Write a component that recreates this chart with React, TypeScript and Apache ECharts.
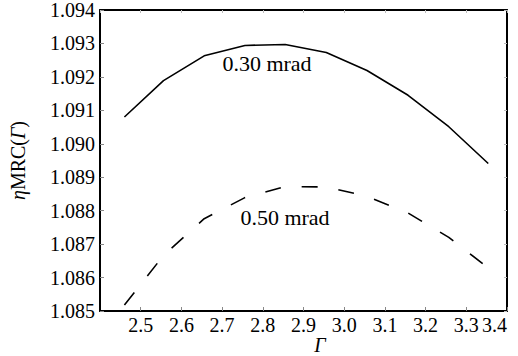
import React, { useEffect, useRef } from "react";
import * as echarts from "echarts";

const gammaSolid = [2.46, 2.556, 2.656, 2.756, 2.855, 2.956, 3.056, 3.157, 3.257, 3.354];
const eta030 = [1.0908, 1.09189, 1.09263, 1.09294, 1.09297, 1.09273, 1.09219, 1.09145, 1.09051, 1.08941];
const gammaDashed = [2.46, 2.556, 2.656, 2.756, 2.855, 2.956, 3.056, 3.157, 3.257, 3.354];
const eta050 = [1.08518, 1.08666, 1.08776, 1.08839, 1.08872, 1.08871, 1.08843, 1.08793, 1.0872, 1.08629];
const seriesLabels = ["0.30 mrad", "0.50 mrad"];
const xTicks = { min: 2.4, max: 3.4, interval: 0.1 };
const yTicks = { min: 1.085, max: 1.094, interval: 0.001 };

const FONT = "'Liberation Serif', serif";

export default function App() {
  const ref = useRef<HTMLDivElement>(null);
  useEffect(() => {
    if (!ref.current) return;
    document.body.style.margin = "0";
    const chart = echarts.init(ref.current, undefined, { renderer: "svg" });
    const axisLine = { show: true, lineStyle: { color: "#000", width: 2 } };
    chart.setOption({
      animation: false,
      backgroundColor: "#fff",
      grid: { left: 98, top: 7, right: 11, bottom: 45, containLabel: false },
      xAxis: [
        {
          type: "value",
          min: xTicks.min,
          max: xTicks.max,
          interval: xTicks.interval,
          axisLine,
          axisTick: { inside: true, length: 4, lineStyle: { color: "#888" } },
          splitLine: { show: false },
          axisLabel: {
            showMinLabel: false,
            alignMaxLabel: "right",
            margin: 4,
            color: "#000",
            fontFamily: FONT,
            fontSize: 20,
            formatter: (v: number) => v.toFixed(1),
          },
        },
        {
          type: "value",
          position: "top",
          min: xTicks.min,
          max: xTicks.max,
          interval: xTicks.interval,
          axisLine,
          axisTick: { inside: true, length: 3, lineStyle: { color: "#bbb" } },
          axisLabel: { show: false },
          splitLine: { show: false },
        },
      ],
      yAxis: [
        {
          type: "value",
          min: yTicks.min,
          max: yTicks.max,
          interval: yTicks.interval,
          axisLine,
          axisTick: { inside: true, length: 4, lineStyle: { color: "#888" } },
          splitLine: { show: false },
          name: "{i|η}MRC({i|Γ})",
          nameLocation: "middle",
          nameRotate: 90,
          nameGap: 72,
          nameTextStyle: {
            fontFamily: FONT,
            fontSize: 20,
            color: "#000",
            rich: { i: { fontStyle: "italic", fontFamily: FONT, fontSize: 20, color: "#000" } },
          },
          axisLabel: {
            margin: 5,
            color: "#000",
            fontFamily: FONT,
            fontSize: 20,
            formatter: (v: number) => v.toFixed(3),
          },
        },
        {
          type: "value",
          position: "right",
          min: yTicks.min,
          max: yTicks.max,
          interval: yTicks.interval,
          axisLine,
          axisTick: { inside: true, length: 3, lineStyle: { color: "#bbb" } },
          axisLabel: { show: false },
          splitLine: { show: false },
        },
      ],
      graphic: [
        {
          type: "text",
          x: 320,
          y: 345,
          style: {
            text: "Γ",
            fontFamily: FONT,
            fontStyle: "italic",
            fontSize: 20,
            fill: "#000",
            align: "center",
            verticalAlign: "middle",
          },
        },
        {
          type: "text",
          x: 267,
          y: 63,
          style: {
            text: seriesLabels[0],
            fontFamily: FONT,
            fontSize: 22,
            fill: "#000",
            align: "center",
            verticalAlign: "middle",
          },
        },
        {
          type: "text",
          x: 285,
          y: 217,
          style: {
            text: seriesLabels[1],
            fontFamily: FONT,
            fontSize: 22,
            fill: "#000",
            align: "center",
            verticalAlign: "middle",
          },
        },
      ],
      series: [
        {
          type: "line",
          name: seriesLabels[0],
          data: gammaSolid.map((g, i) => [g, eta030[i]]),
          showSymbol: false,
          symbol: "none",
          lineStyle: { color: "#000", width: 1.6 },
        },
        {
          type: "line",
          name: seriesLabels[1],
          data: gammaDashed.map((g, i) => [g, eta050[i]]),
          showSymbol: false,
          symbol: "none",
          lineStyle: { color: "#000", width: 1.6, type: [16, 21] },
        },
      ],
    });
    return () => chart.dispose();
  }, []);
  return (
    <div
      ref={ref}
      style={{ position: "fixed", left: 0, top: 0, width: 518, height: 356 }}
    />
  );
}
